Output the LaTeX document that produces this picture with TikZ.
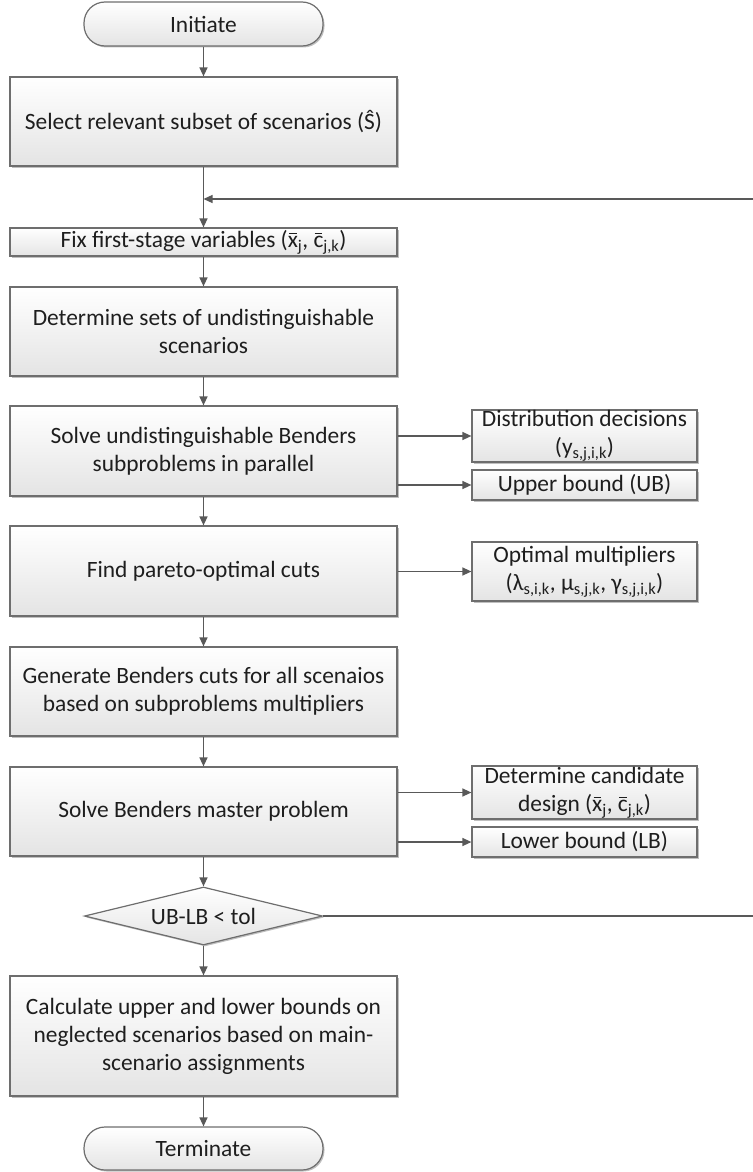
\documentclass[tikz,border=0pt]{standalone}
\usepackage{fontspec}
\setmainfont{Carlito}
\usetikzlibrary{arrows.meta,shapes.geometric,shadows}
\definecolor{boxline}{HTML}{6E6E6E}
\definecolor{arrowline}{HTML}{595959}
\definecolor{boxfill}{HTML}{E4E4E4}
\definecolor{textdark}{HTML}{1E1E1E}
\newcommand{\idx}[1]{\textsubscript{#1}}
\newcommand{\topbar}[1]{\ooalign{#1\cr\hidewidth\rule[0.56em]{0.32em}{0.055em}\hidewidth\cr}}
\tikzset{
    base/.style={draw=boxline, line width=1.2pt, top color=white, bottom color=boxfill,
        text=textdark, font=\fontsize{23.4}{28}\selectfont, align=center, inner sep=0pt,
        drop shadow={shadow xshift=1.5pt, shadow yshift=-1.5pt, opacity=.25, fill=black}},
    process/.style={base, rectangle, minimum width=387pt},
    result/.style={base, rectangle, minimum width=225pt},
    terminal/.style={base, rectangle, rounded corners=21pt, minimum width=239pt, minimum height=44pt},
    decision/.style={base, diamond, aspect=4, minimum width=238pt, minimum height=58pt},
    flow/.style={draw=arrowline, line width=1.3pt, -{Triangle[length=9pt,width=8pt]}}
}

\begin{document}
\begin{tikzpicture}[x=1pt,y=1pt]
        \useasboundingbox (0,0) rectangle (752,-1172);
        \node [terminal] (init) at (203.5,-24) {Initiate};
        \node [process, minimum height=89pt] (select) at (203.5,-121.5)
            {Select relevant subset of scenarios (Ŝ)};
        \node [process, minimum height=28pt] (fix) at (203.5,-242)
            {Fix first-stage variables (\topbar{x}\idx{j}, \topbar{c}\idx{j,k})};
        \node [process, minimum height=89pt] (sets) at (203.5,-331.5)
            {Determine sets of undistinguishable\\scenarios};
        \node [process, minimum height=90pt] (sub) at (203.5,-451)
            {Solve undistinguishable Benders\\subproblems in parallel};
        \node [result, minimum height=52pt] (dist) at (584.5,-436)
            {Distribution decisions\\(y\idx{s,j,i,k})};
        \node [result, minimum height=30pt] (ub) at (584.5,-485) {Upper bound (UB)};
        \node [process, minimum height=90pt] (pareto) at (203.5,-571)
            {Find pareto-optimal cuts};
        \node [result, minimum height=59pt] (mult) at (584.5,-571.5)
            {Optimal multipliers\\(λ\idx{s,i,k}, μ\idx{s,j,k}, γ\idx{s,j,i,k})};
        \node [process, minimum height=89pt] (cuts) at (203.5,-691.5)
            {Generate Benders cuts for all scenaios\\based on subproblems multipliers};
        \node [process, minimum height=89pt] (master) at (203.5,-811.5)
            {Solve Benders master problem};
        \node [result, minimum height=53pt] (cand) at (584.5,-792.5)
            {Determine candidate\\design (\topbar{x}\idx{j}, \topbar{c}\idx{j,k})};
        \node [result, minimum height=30pt] (lb) at (584.5,-842) {Lower bound (LB)};
        \node [decision] (check) at (203.5,-916) {UB-LB < tol};
        \node [process, minimum height=120pt] (bounds) at (203.5,-1036)
            {Calculate upper and lower bounds on\\neglected scenarios based on main-\\scenario assignments};
        \node [terminal, minimum height=43pt] (term) at (203.5,-1148.5) {Terminate};
        \coordinate (merge) at (203.5,-199);
        \coordinate (loop) at (780,-916);
        \draw [flow] (init) -- (select);
        \draw [flow] (select) -- (fix);
        \draw [flow] (fix) -- (sets);
        \draw [flow] (sets) -- (sub);
        \draw [flow] (sub) -- (pareto);
        \draw [flow] (pareto) -- (cuts);
        \draw [flow] (cuts) -- (master);
        \draw [flow] (master) -- (check);
        \draw [flow] (check) -- (bounds);
        \draw [flow] (bounds) -- (term);
        \draw [flow] (sub.east |- dist.west) -- (dist.west);
        \draw [flow] (sub.east |- ub.west) -- (ub.west);
        \draw [flow] (pareto.east |- mult.west) -- (mult.west);
        \draw [flow] (master.east |- cand.west) -- (cand.west);
        \draw [flow] (master.east |- lb.west) -- (lb.west);
        \draw [flow] (check.east) -- (loop) |- (merge);
\end{tikzpicture}
\end{document}
